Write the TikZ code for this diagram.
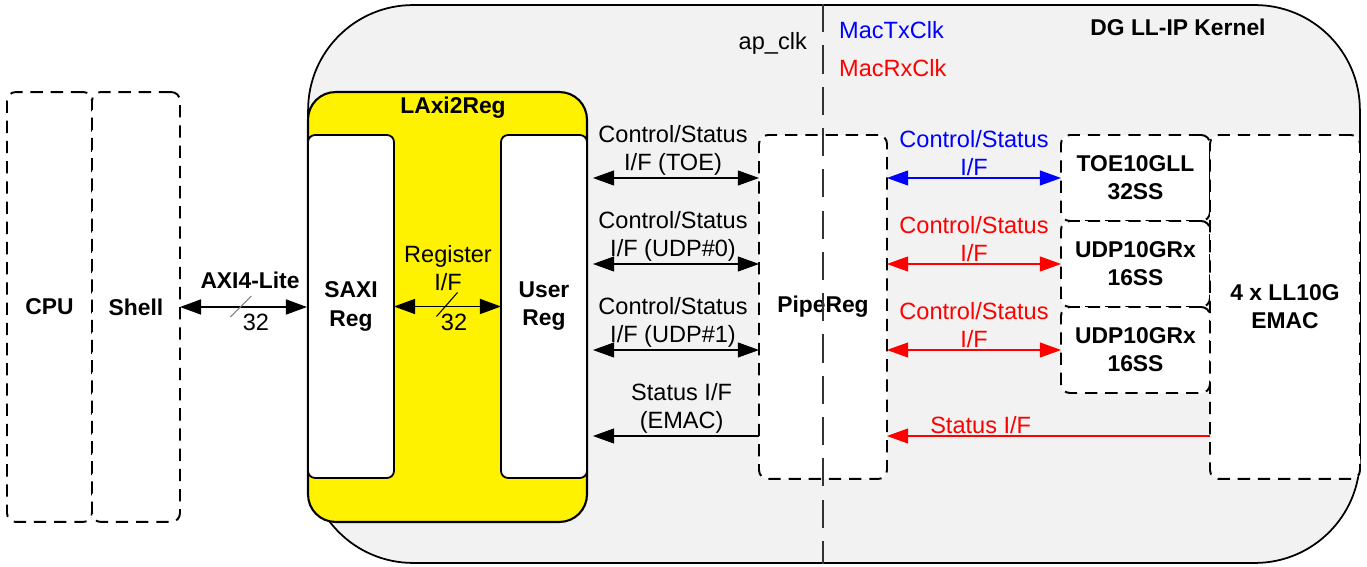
\documentclass[tikz,border=0pt]{standalone}
\usepackage{fontspec}
\setmainfont{Liberation Sans}
\usetikzlibrary{arrows.meta,calc}

\newcommand{\figfont}{\fontsize{13.4}{16}\selectfont}
\newcommand{\figbold}{\fontsize{13}{16}\selectfont\bfseries}

\tikzset{
  dashbox/.style={draw, line width=1.1pt, dash pattern=on 7pt off 4.5pt,
    rounded corners=5pt, fill=white, inner sep=0pt, outer sep=0pt,
    align=center, font=\figbold},
  regbox/.style={draw, line width=1pt, rounded corners=4pt, fill=white,
    inner sep=0pt, outer sep=0pt, align=center, font=\figbold},
  bigtip/.tip={Triangle[length=12pt,width=8.5pt]},
  busarr/.style={line width=1.1pt, bigtip-bigtip},
  ifarr/.style={line width=0.6pt, bigtip-bigtip},
  lbl/.style={align=center, inner sep=1pt},
}

\begin{document}
\begin{tikzpicture}[x=0.02cm, y=-0.02cm, font=\figfont]
\useasboundingbox (0,0) rectangle (1367,567);

% kernel background
\node[draw, line width=1pt, fill=gray!10, rounded corners=2.1cm,
  minimum width=21.04cm, minimum height=11.16cm, inner sep=0pt] (kernel) at (834,284) {};
\node[font=\figbold] (ktitle) at (1178,27) {DG LL-IP Kernel};

\node[dashbox, minimum width=1.70cm, minimum height=8.6cm] (cpu) at (49.5,307) {CPU};
\node[dashbox, minimum width=1.76cm, minimum height=8.6cm] (shell) at (136,307) {Shell};

\node[draw, line width=1.2pt, fill=yellow, rounded corners=0.55cm,
  minimum width=5.58cm, minimum height=8.6cm, inner sep=0pt] (laxi) at (447.5,307) {};
\node[font=\figbold] (laxititle) at (453,108) {LAxi2Reg};
\node[regbox, minimum width=1.72cm, minimum height=6.86cm] (saxi) at (351,306.5) {SAXI\\Reg};
\node[regbox, minimum width=1.72cm, minimum height=6.86cm] (user) at (544,306.5) {User\\Reg};

\node[dashbox, minimum width=2.56cm, minimum height=6.88cm] (pipe) at (823,307) {PipeReg};

\node[dashbox, minimum width=2.98cm, minimum height=1.72cm] (toe) at (1135.5,178) {TOE10GLL\\32SS};
\node[dashbox, minimum width=2.98cm, minimum height=1.72cm] (udpa) at (1135.5,264) {UDP10GRx\\16SS};
\node[dashbox, minimum width=2.98cm, minimum height=1.72cm] (udpb) at (1135.5,350) {UDP10GRx\\16SS};
\node[dashbox, minimum width=3.0cm, minimum height=6.88cm] (emac) at (1285,307) {4 x LL10G\\EMAC};

% clock domain border
\draw[line width=1.1pt, black!80, dash pattern=on 16pt off 7.5pt]
  (kernel.north -| pipe) -- (kernel.south -| pipe);
\node[anchor=east] (apclk) at (813,43) {ap\_clk};
\node[anchor=west, text=blue] (txclk) at (833,30) {MacTxClk};
\node[anchor=west, text=red] (rxclk) at (833,68) {MacRxClk};

% AXI4-Lite
\draw[busarr] (shell.east) -- (laxi.west) coordinate[midway] (axim);
\node[font=\figbold] (axilbl) at (250,280) {AXI4-Lite};
\draw[gray, line width=0.6pt] ($(axim)+(-13,10)$) -- ($(axim)+(8,-11)$);
\node (axiw) at (256,322) {32};

% register I/F
\draw[busarr] (saxi.east) -- (user.west) coordinate[midway] (regm);
\node[lbl] (reglbl) at (448,268) {Register\\I/F};
\draw[line width=0.6pt] ($(regm)+(-11,10)$) -- ($(regm)+(10,-14)$);
\node (regw) at (454,322) {32};

% ap_clk side
\coordinate (stat) at (1000,436);
\draw[ifarr, shorten <=3.4pt] (user.east |- toe) -- (pipe.west |- toe)
  node[midway, above, lbl] {Control/Status\\I/F (TOE)};
\draw[ifarr, shorten <=3.4pt] (user.east |- udpa) -- (pipe.west |- udpa)
  node[midway, above, lbl] {Control/Status\\I/F (UDP\#0)};
\draw[ifarr, shorten <=3.4pt] (user.east |- udpb) -- (pipe.west |- udpb)
  node[midway, above, lbl] {Control/Status\\I/F (UDP\#1)};
\draw[line width=0.6pt, -bigtip, shorten >=3.4pt] (pipe.west |- stat) -- (user.east |- stat)
  node[pos=0.45, above, lbl] {Status I/F\\(EMAC)};

% MAC clock side
\draw[ifarr, blue] (pipe.east |- toe) -- (toe.west)
  node[midway, above, lbl] {Control/Status\\I/F};
\draw[ifarr, red] (pipe.east |- udpa) -- (udpa.west)
  node[midway, above, lbl] {Control/Status\\I/F};
\draw[ifarr, red] (pipe.east |- udpb) -- (udpb.west)
  node[midway, above, lbl] {Control/Status\\I/F};
\draw[line width=0.6pt, red, -bigtip] (emac.west |- stat) -- (pipe.east |- stat)
  node[pos=0.71, above, lbl] {Status I/F};

\end{tikzpicture}
\end{document}
